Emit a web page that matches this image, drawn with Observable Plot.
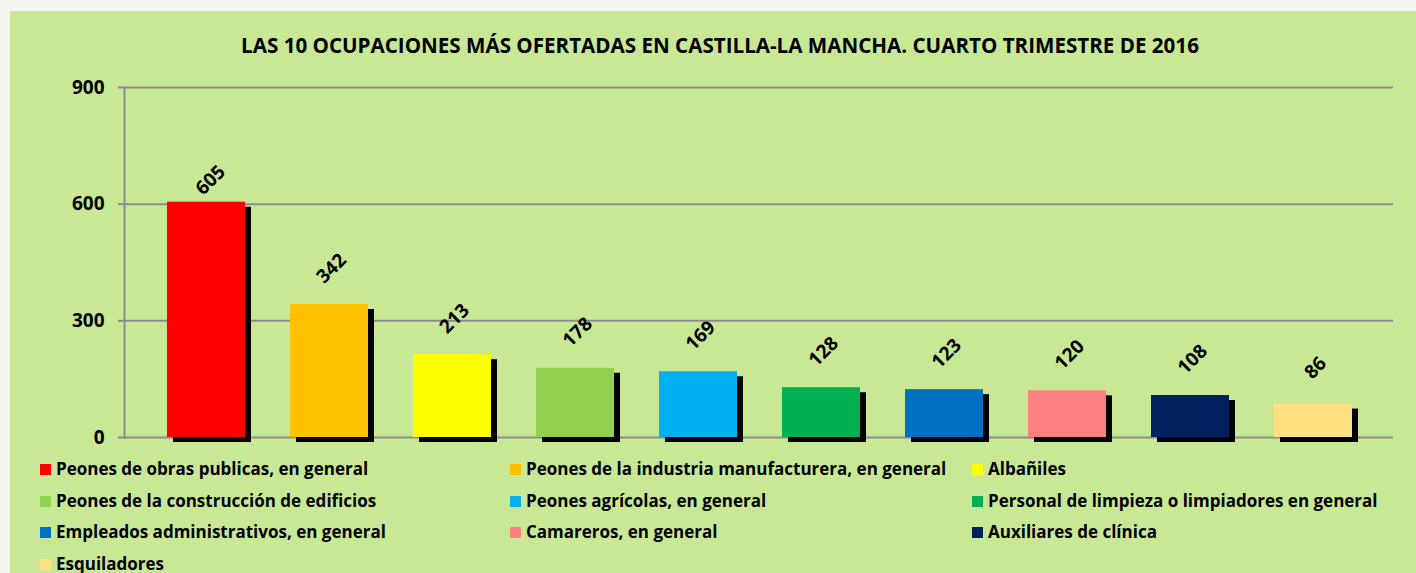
<!DOCTYPE html>
<html>
<head>
<meta charset="utf-8">
<script src="https://cdn.jsdelivr.net/npm/d3@7"></script>
<script src="https://cdn.jsdelivr.net/npm/@observablehq/plot@0.6"></script>
<style>
  html, body { margin: 0; padding: 0; background: #f3f6ee; width: 1416px; height: 573px; overflow: hidden; }
  #chart { position: absolute; left: 10px; top: 11px; width: 1406px; height: 562px; background: #c9e896;
           font-family: "Open Sans", sans-serif; color: #000; }
  #title { position: absolute; left: 7px; width: 1406px; top: 20px; text-align: center; font-weight: 700; font-size: 20.6px; }
  #plot { position: absolute; left: 0; top: 59px; }
  #legend { position: absolute; left: 0; top: 446px; width: 1406px; }
  .item { position: absolute; font-weight: 700; font-size: 17px; line-height: 24px; white-space: nowrap; }
  .sw { display: inline-block; width: 11px; height: 11px; margin-right: 5px; vertical-align: 0px; }
</style>
</head>
<body>
<div id="chart">
  <div id="title">LAS 10 OCUPACIONES MÁS OFERTADAS EN CASTILLA-LA MANCHA. CUARTO TRIMESTRE DE 2016</div>
  <div id="plot"></div>
  <div id="legend"></div>
</div>
<script>
const categories = [
  "Peones de obras publicas, en general",
  "Peones de la industria manufacturera, en general",
  "Albañiles",
  "Peones de la construcción de edificios",
  "Peones agrícolas, en general",
  "Personal de limpieza o limpiadores en general",
  "Empleados administrativos, en general",
  "Camareros, en general",
  "Auxiliares de clínica",
  "Esquiladores"
];
const values = [605, 342, 213, 178, 169, 128, 123, 120, 108, 86];
const colors = ["#ff0000", "#ffc000", "#ffff00", "#92d050", "#00b0f0", "#00b050", "#0070c0", "#ff8080", "#002060", "#ffdf80"];
const yTicks = [0, 300, 600, 900];

const data = categories.map((c, i) => ({cat: c, val: values[i]}));
const font = "'Open Sans', sans-serif";
const labelStyle = {x: "cat", y: "val", text: d => String(d.val), rotate: -45, fontWeight: 700, fontSize: 19, fill: "#000", textAnchor: "middle", lineAnchor: "middle"};

const chart = Plot.plot({
  width: 1406,
  height: 380,
  marginTop: 17,
  marginBottom: 13,
  marginLeft: 114,
  marginRight: 23,
  style: {background: "transparent", fontFamily: font, fontSize: "17px", color: "#000"},
  x: {domain: categories, range: [134.5, 1364.5], paddingInner: 0.366, paddingOuter: 0.183, axis: null},
  y: {domain: [0, 900], label: null},
  color: {domain: categories, range: colors},
  marks: [
    Plot.ruleY(yTicks, {stroke: "#8c8c8c", strokeWidth: 2}),
    Plot.frame({anchor: "left", stroke: "#8c8c8c", strokeWidth: 2}),
    Plot.axisY({ticks: yTicks, label: null, tickSize: 6, tickPadding: 14, tickFormat: d => d, fontWeight: 700, fontSize: 19, stroke: "#8c8c8c", strokeWidth: 2, strokeOpacity: 1, fill: "#000"}),
    Plot.barY(data, {x: "cat", y: "val", fill: "#000", dx: 6, dy: 5}),
    Plot.barY(data, {x: "cat", y: "val", fill: "cat"}),
    Plot.text(data, {...labelStyle, filter: d => d.val > 600, dx: 4, dy: -22}),
    Plot.text(data, {...labelStyle, filter: d => d.val <= 600, dx: 2, dy: -36})
  ]
});
document.getElementById("plot").appendChild(chart);

const legend = document.getElementById("legend");
const colX = [30, 500, 962];
const rowY = [0, 31.5, 63, 94.5];
categories.forEach((c, i) => {
  const el = document.createElement("div");
  el.className = "item";
  el.style.left = colX[i % 3] + "px";
  el.style.top = rowY[Math.floor(i / 3)] + "px";
  el.innerHTML = `<span class="sw" style="background:${colors[i]}"></span>`;
  el.appendChild(document.createTextNode(c));
  legend.appendChild(el);
});
</script>
</body>
</html>
